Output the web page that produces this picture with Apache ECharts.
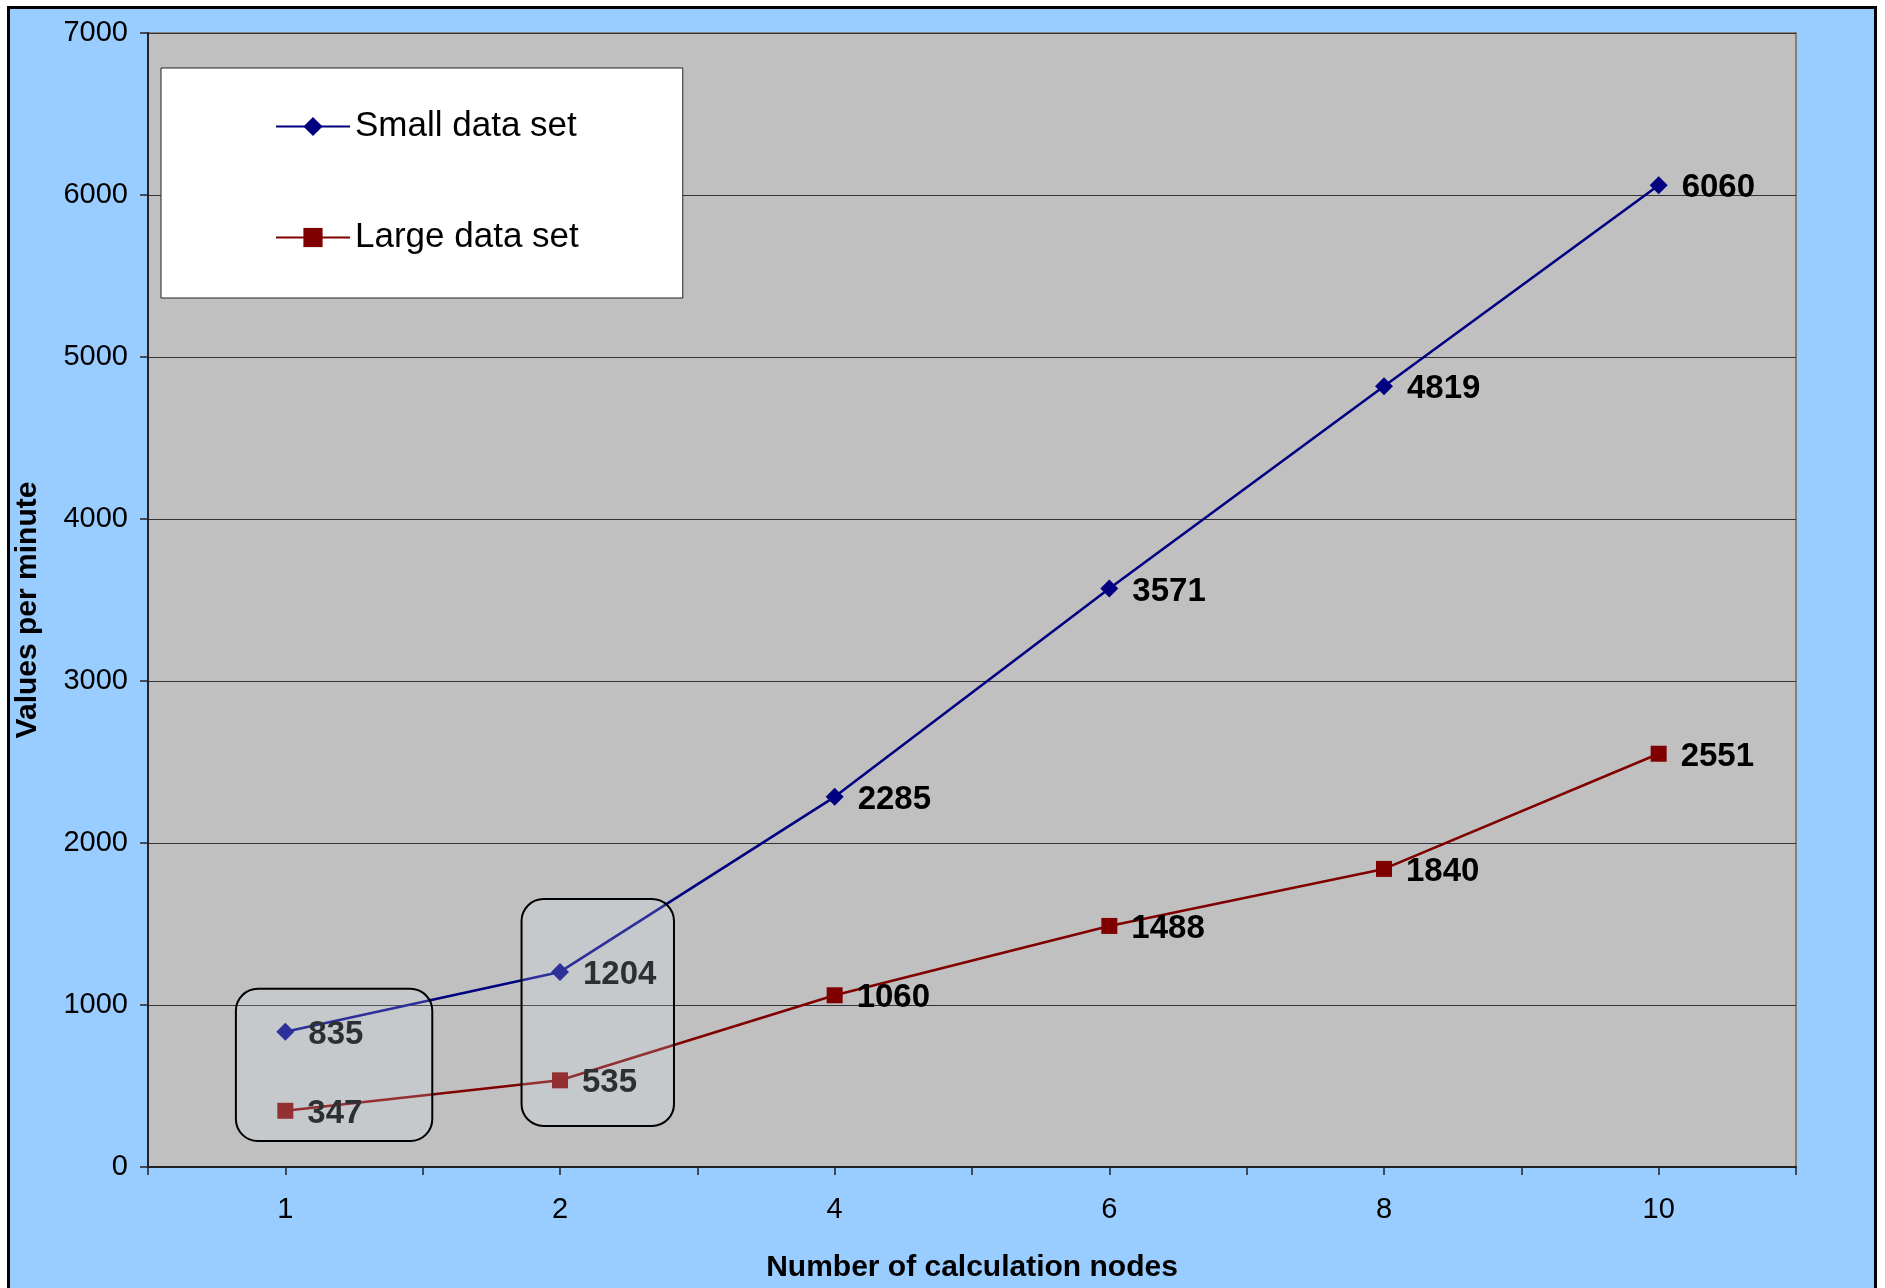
<!DOCTYPE html>
<html>
<head>
<meta charset="utf-8">
<script src="https://cdn.jsdelivr.net/npm/echarts@6/dist/echarts.min.js"></script>
<style>
html,body{margin:0;padding:0;background:#fff;width:1885px;height:1288px;overflow:hidden;}
#frame{position:absolute;left:7px;top:6px;width:1864px;height:1400px;border:3px solid #000;background:#99CCFF;}
#chart{position:absolute;left:0;top:0;width:1885px;height:1288px;}
</style>
</head>
<body>
<div id="frame"></div>
<div id="chart"></div>
<script>
// ---- data ----
const categories = ['1', '2', '4', '6', '8', '10'];
const smallData = [835, 1204, 2285, 3571, 4819, 6060];
const largeData = [347, 535, 1060, 1488, 1840, 2551];
const seriesNames = ['Small data set', 'Large data set'];
const xTitle = 'Number of calculation nodes';
const yTitle = 'Values per minute';

// highlight boxes (category, band offsets, value range)
const highlightCats = ['1', '2'];
const highlightLeft = [-0.18, -0.14];
const highlightRight = [0.535, 0.415];
const highlightLow = [160, 253];
const highlightHigh = [1100, 1654];

const FONT = '"Liberation Sans", Arial, sans-serif';
const chart = echarts.init(document.getElementById('chart'), null, {renderer: 'canvas'});

const labelStyle = {
  show: true, position: 'right', distance: 14, offset: [0, 3],
  fontSize: 33, fontWeight: 'bold', color: '#000', fontFamily: FONT
};

const option = {
  backgroundColor: 'transparent',
  animation: false,
  textStyle: {fontFamily: FONT},
  grid: {
    left: 148, right: 89, top: 33, bottom: 120,
    show: true, backgroundColor: '#C0C0C0', borderColor: '#808080', borderWidth: 2,
    containLabel: false
  },
  legend: {
    left: 161, top: 68,
    orient: 'vertical',
    backgroundColor: '#fff',
    borderColor: '#222', borderWidth: 1,
    padding: [41, 104, 43, 114],
    itemGap: 76,
    itemWidth: 74, itemHeight: 24,
    textStyle: {fontSize: 35, color: '#000', fontFamily: FONT},
    data: seriesNames
  },
  xAxis: [{
    type: 'category', data: categories, position: 'bottom',
    boundaryGap: true,
    name: xTitle, nameLocation: 'middle', nameGap: 86,
    nameTextStyle: {fontSize: 30, fontWeight: 'bold', color: '#000', fontFamily: FONT},
    axisLine: {show: true, lineStyle: {color: '#222', width: 2}},
    axisTick: {show: true, alignWithLabel: true, length: 8, lineStyle: {color: '#222', width: 1.5}},
    axisLabel: {fontSize: 29, color: '#000', margin: 28, fontFamily: FONT},
    splitLine: {show: false}
  }, {
    type: 'category', data: categories, position: 'bottom',
    boundaryGap: true,
    axisLine: {show: false},
    axisTick: {show: true, alignWithLabel: false, length: 8, lineStyle: {color: '#222', width: 1.5}},
    axisLabel: {show: false},
    splitLine: {show: false}
  }],
  yAxis: {
    type: 'value', min: 0, max: 7000, interval: 1000,
    name: yTitle, nameLocation: 'middle', nameGap: 105, nameRotate: 90,
    nameTextStyle: {fontSize: 30, fontWeight: 'bold', color: '#000', fontFamily: FONT, padding: [0, 20, 0, 0]},
    axisLine: {show: true, lineStyle: {color: '#222', width: 2}},
    axisTick: {show: true, length: 8, lineStyle: {color: '#222', width: 1.5}},
    axisLabel: {fontSize: 29, color: '#000', margin: 20, fontFamily: FONT, formatter: v => String(v)},
    splitLine: {show: true, lineStyle: {color: '#333', width: 1}}
  },
  series: [{
    name: seriesNames[0], type: 'line', data: smallData,
    symbol: 'diamond', symbolSize: 18,
    itemStyle: {color: '#000080'},
    lineStyle: {color: '#000080', width: 2.6},
    label: labelStyle
  }, {
    name: seriesNames[1], type: 'line', data: largeData,
    symbol: 'rect', symbolSize: 16,
    itemStyle: {color: '#800000'},
    lineStyle: {color: '#800000', width: 2.6},
    label: labelStyle
  }]
};
chart.setOption(option);

// overlay highlight boxes computed via the chart's own scales
const c0 = chart.convertToPixel({xAxisIndex: 0, yAxisIndex: 0}, [categories[0], 0]);
const c1 = chart.convertToPixel({xAxisIndex: 0, yAxisIndex: 0}, [categories[1], 0]);
const band = c1[0] - c0[0];
const boxes = highlightCats.map((cat, i) => {
  const pLow = chart.convertToPixel({xAxisIndex: 0, yAxisIndex: 0}, [cat, highlightLow[i]]);
  const pHigh = chart.convertToPixel({xAxisIndex: 0, yAxisIndex: 0}, [cat, highlightHigh[i]]);
  const x0 = pLow[0] + highlightLeft[i] * band;
  const x1 = pLow[0] + highlightRight[i] * band;
  return {
    type: 'rect', z: 100,
    shape: {x: x0, y: pHigh[1], width: x1 - x0, height: pLow[1] - pHigh[1], r: 22},
    style: {fill: 'rgba(225,240,248,0.2)', stroke: '#000', lineWidth: 2}
  };
});
chart.setOption({graphic: boxes});
</script>
</body>
</html>
